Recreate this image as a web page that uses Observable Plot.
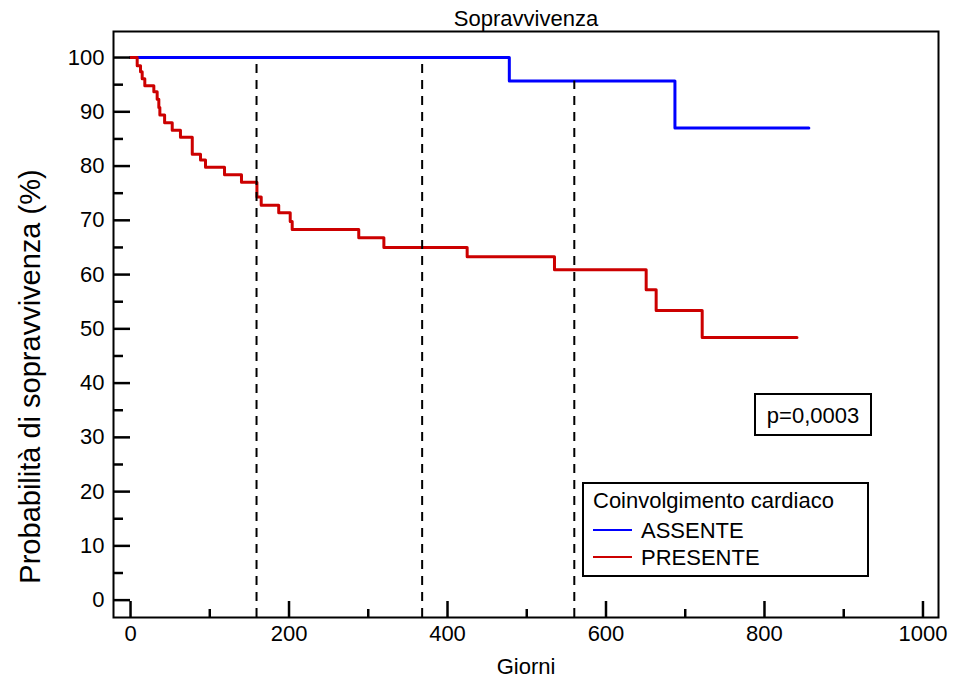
<!DOCTYPE html>
<html><head><meta charset="utf-8">
<script src="https://cdn.jsdelivr.net/npm/d3@7"></script>
<script src="https://cdn.jsdelivr.net/npm/@observablehq/plot@0.6"></script>
<style>
body{margin:0;background:#fff;}
#wrap{position:relative;width:954px;height:682px;font-family:"Liberation Sans",Arial,sans-serif;}
#wrap svg{display:block;}
#overlay{position:absolute;left:0;top:0;pointer-events:none;}
</style></head><body><div id="wrap"></div>
<script>
const title = "Sopravvivenza";
const xLabel = "Giorni";
const yLabel = "Probabilità di sopravvivenza (%)";
const legendTitle = "Coinvolgimento cardiaco";
const groups = ["ASSENTE", "PRESENTE"];
const groupColors = ["#0000ff", "#cc0000"];
const pText = "p=0,0003";

// Kaplan-Meier steps: time (days) at which survival (%) becomes the value
const assenteT = [0, 478, 687, 856];
const assenteS = [100, 95.7, 87.0, 87.0];
const presenteT = [0, 8.4, 12.6, 14.7, 18, 29.4, 33.6, 35.7, 37, 43, 52.6, 63, 77.9, 88.3, 94.6, 118.6, 140, 159.5, 164.9, 187, 201.5, 204, 288, 319.7, 424.8, 535, 650.7, 663.3, 721.4, 841];
const presenteS = [100, 98.5, 97.4, 96.1, 94.8, 93.7, 92.3, 90.8, 89.4, 88.0, 86.6, 85.3, 82.2, 81.1, 79.8, 78.4, 77.0, 74.3, 72.8, 71.4, 69.8, 68.3, 66.8, 65.0, 63.3, 60.9, 57.2, 53.4, 48.4, 48.4];

const dashedT = [159, 368, 560];

const xMajor = [0, 200, 400, 600, 800, 1000];
const xMinor = [100, 300, 500, 700, 900];
const yMajor = [0, 10, 20, 30, 40, 50, 60, 70, 80, 90, 100];
const yMinor = [5, 15, 25, 35, 45, 55, 65, 75, 85, 95];

const xDomain = [-21.5, 1019.6];
const yDomain = [-3.2, 104.8];

const rows = [];
assenteT.forEach((t, i) => rows.push({g: groups[0], t, s: assenteS[i]}));
presenteT.forEach((t, i) => rows.push({g: groups[1], t, s: presenteS[i]}));

function blueAt(t) {
  let v = assenteS[0];
  for (let i = 0; i < assenteT.length; i++) if (assenteT[i] <= t) v = assenteS[i];
  return v;
}

const font = '"Liberation Sans",Arial,sans-serif';
const fmt = d => String(d);

const plot = Plot.plot({
  width: 954, height: 682,
  marginLeft: 113, marginRight: 16, marginTop: 31, marginBottom: 65,
  style: {fontFamily: font, fontSize: "22px", background: "white", color: "black", overflow: "visible"},
  x: {domain: xDomain},
  y: {domain: yDomain},
  color: {domain: groups, range: groupColors},
  marks: [
    Plot.line(rows.filter(d => d.g === groups[0]), {x: "t", y: "s", curve: "step-after", stroke: groupColors[0], strokeWidth: 3}),
    Plot.line(rows.filter(d => d.g === groups[1]), {x: "t", y: "s", curve: "step-after", stroke: groupColors[1], strokeWidth: 3}),
    Plot.ruleX(dashedT, {x: d => d, y1: yDomain[0], y2: d => blueAt(d), stroke: "black", strokeWidth: 2, strokeDasharray: "9,7"}),
    Plot.axisX({ticks: xMajor, tickSize: -16, fill: "none", label: null, strokeWidth: 2.5, tickFormat: fmt}),
    Plot.axisX({ticks: xMinor, tickSize: -8, fill: "none", label: null, strokeWidth: 2.5, tickFormat: fmt}),
    Plot.axisX({ticks: xMajor, tickSize: 0, tickPadding: 8, stroke: "none", label: null, tickFormat: fmt, fontSize: 22}),
    Plot.axisY({ticks: yMajor, tickSize: -17, fill: "none", label: null, strokeWidth: 2.5, tickFormat: fmt}),
    Plot.axisY({ticks: yMinor, tickSize: -10, fill: "none", label: null, strokeWidth: 2.5, tickFormat: fmt}),
    Plot.axisY({ticks: yMajor, tickSize: 0, tickPadding: 9, stroke: "none", label: null, tickFormat: fmt, fontSize: 22}),
    Plot.frame({stroke: "black", strokeWidth: 2}),
    Plot.text([title], {text: d => d, frameAnchor: "top", dy: -13, fontSize: 22, lineAnchor: "middle"}),
    Plot.text([xLabel], {text: d => d, frameAnchor: "bottom", dy: 49, fontSize: 22, lineAnchor: "middle"}),
    Plot.text([yLabel], {text: d => d, frameAnchor: "left", textAnchor: "middle", dx: -83, dy: 52, rotate: -90, fontSize: 29, lineAnchor: "middle"})
  ]
});

const wrap = document.getElementById("wrap");
wrap.appendChild(plot);

// legend and p-value box overlay
const ov = d3.select(wrap).append("svg").attr("id", "overlay")
  .attr("width", 954).attr("height", 682)
  .style("font-family", font);

// p-value box
ov.append("rect").attr("x", 755).attr("y", 394).attr("width", 116).attr("height", 41)
  .attr("fill", "white").attr("stroke", "black").attr("stroke-width", 2);
ov.append("text").attr("x", 813).attr("y", 423).attr("text-anchor", "middle")
  .attr("font-size", 22).text(pText);

// legend box
ov.append("rect").attr("x", 583).attr("y", 483).attr("width", 285).attr("height", 93)
  .attr("fill", "white").attr("stroke", "black").attr("stroke-width", 2);
ov.append("text").attr("x", 593).attr("y", 508).attr("font-size", 22).text(legendTitle);
groups.forEach((g, i) => {
  const y = 530 + i * 27;
  ov.append("line").attr("x1", 593).attr("x2", 632).attr("y1", y).attr("y2", y)
    .attr("stroke", groupColors[i]).attr("stroke-width", 2);
  ov.append("text").attr("x", 641).attr("y", y + 7.5).attr("font-size", 22).text(g);
});
</script>
</body></html>
